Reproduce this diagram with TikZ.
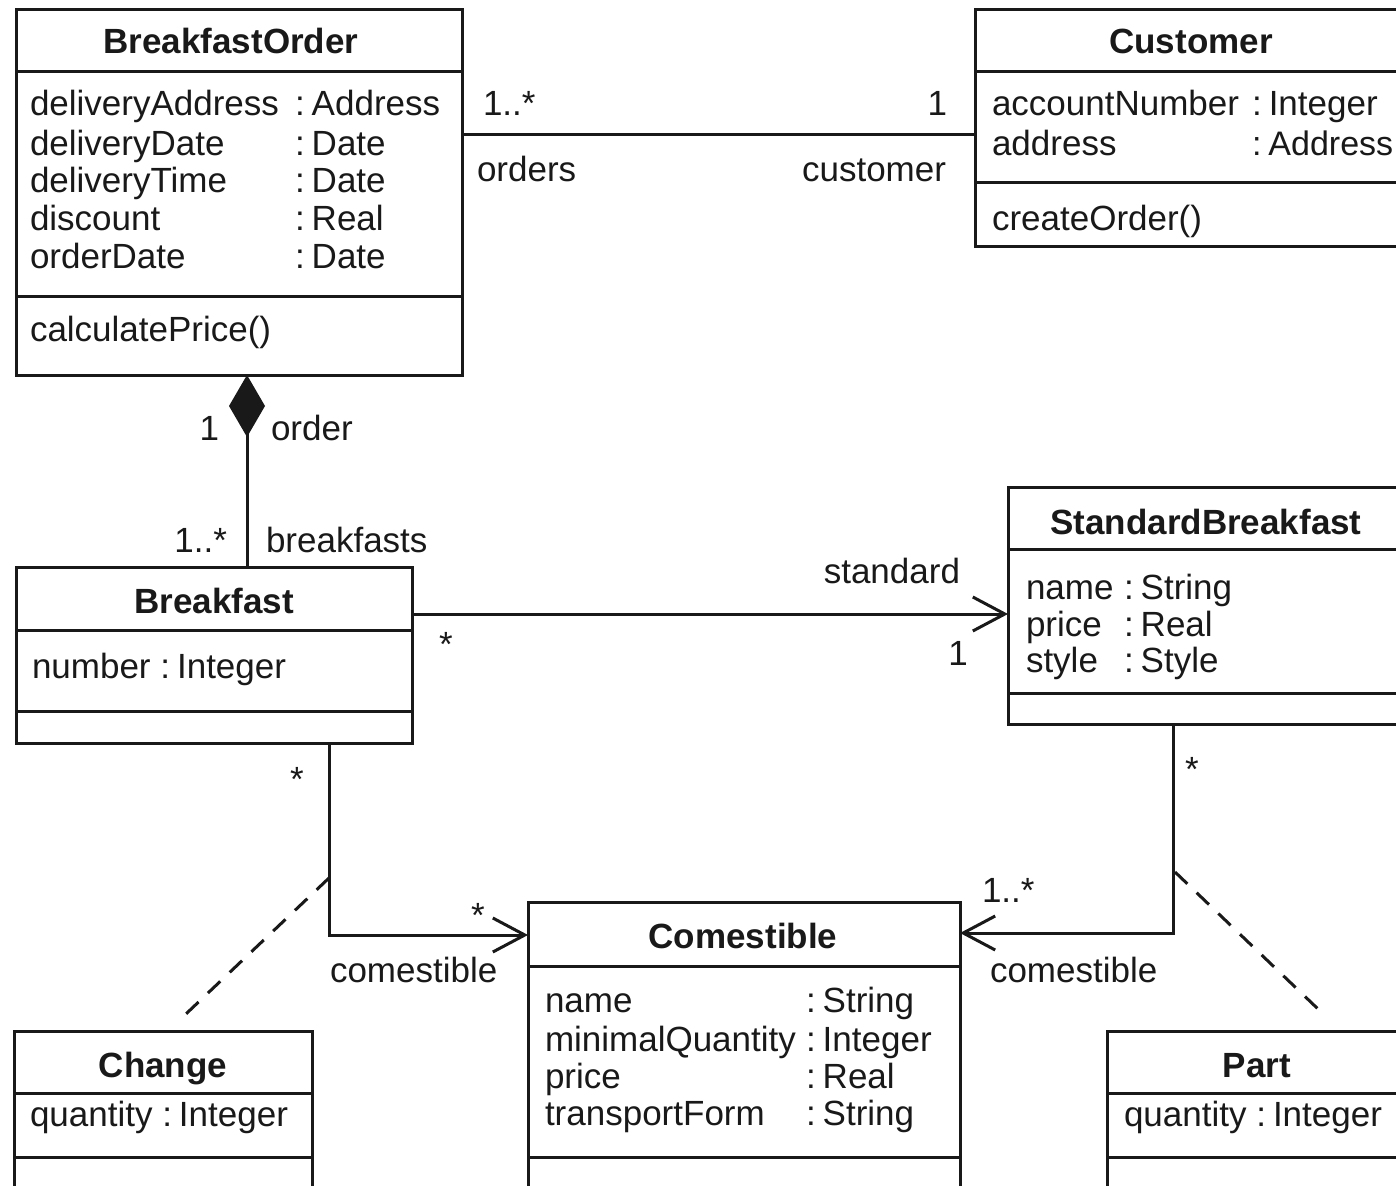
\documentclass[tikz,border=0pt]{standalone}
\usepackage{fontspec}
\setmainfont{Liberation Sans}
\usetikzlibrary{arrows.meta}
\definecolor{ink}{RGB}{25,25,25}
% attribute type with a tight colon
\newcommand\attrtype[1]{:\hspace{7pt}#1}
\begin{document}
\begin{tikzpicture}[x=1pt,y=-1pt,
  every node/.style={inner sep=0pt, outer sep=0pt, text=ink, font=\fontsize{35}{40}\selectfont},
  classbox/.style={draw=ink, line width=3pt, fill=white, rectangle, anchor=north west},
  txt/.style={anchor=base west},
  rtxt/.style={anchor=base east},
  ctxt/.style={anchor=base},
  ttl/.style={anchor=base, font=\fontsize{35}{40}\selectfont\bfseries},
  divider/.style={draw=ink, line width=3pt},
  assoc/.style={draw=ink, line width=3pt},
  navarrow/.style={assoc, -{Straight Barb[length=32pt,width=34pt]}},
  assocclass/.style={draw=ink, line width=3pt, dash pattern=on 17pt off 13pt},
]
\useasboundingbox (0,0) rectangle (1396,1185);
\fill[white] (0,0) rectangle (1396,1185);
\clip (0,0) rectangle (1396,1185);

% ---------- class boxes ----------
\node[classbox, minimum width=446pt, minimum height=365pt] (bo) at (16,10) {};
\node[classbox, minimum width=432pt, minimum height=236pt] (cu) at (975,10) {};
\node[classbox, minimum width=396pt, minimum height=176pt] (bf) at (16,567) {};
\node[classbox, minimum width=396pt, minimum height=237pt] (sb) at (1008,487) {};
\node[classbox, minimum width=432pt, minimum height=330pt] (co) at (528,902) {};
\node[classbox, minimum width=298pt, minimum height=300pt] (ch) at (14,1031) {};
\node[classbox, minimum width=300pt, minimum height=300pt] (pa) at (1107,1031) {};

% compartment dividers
\draw[divider] (bo.west |- 0,72) -- (bo.east |- 0,72);
\draw[divider] (bo.west |- 0,296) -- (bo.east |- 0,296);
\draw[divider] (cu.west |- 0,72) -- (cu.east |- 0,72);
\draw[divider] (cu.west |- 0,183) -- (cu.east |- 0,183);
\draw[divider] (bf.west |- 0,630) -- (bf.east |- 0,630);
\draw[divider] (bf.west |- 0,711) -- (bf.east |- 0,711);
\draw[divider] (sb.west |- 0,549) -- (sb.east |- 0,549);
\draw[divider] (sb.west |- 0,693) -- (sb.east |- 0,693);
\draw[divider] (co.west |- 0,966) -- (co.east |- 0,966);
\draw[divider] (co.west |- 0,1157) -- (co.east |- 0,1157);
\draw[divider] (ch.west |- 0,1093) -- (ch.east |- 0,1093);
\draw[divider] (ch.west |- 0,1157) -- (ch.east |- 0,1157);
\draw[divider] (pa.west |- 0,1093) -- (pa.east |- 0,1093);
\draw[divider] (pa.west |- 0,1157) -- (pa.east |- 0,1157);

% ---------- connectors ----------
\draw[assoc] (bo.east |- 0,135) -- (cu.west |- 0,135);
\draw[assoc, {Diamond[length=62pt,width=36pt]}-] (bo.south -| 247,0) -- (bf.north -| 247,0);
\draw[navarrow] (bf.east |- 0,614) -- (sb.west |- 0,614);
\draw[navarrow] (bf.south -| 329,0) |- (co.west |- 0,935);
\draw[navarrow] (sb.south -| 1173,0) |- (co.east |- 0,933);
\coordinate (chj) at (329,878);
\draw[assocclass, shorten >=15pt] (chj) -- (ch.north -| 168,0);
\coordinate (paj) at (1175,872);
\draw[assocclass, shorten >=20pt] (paj) -- (pa.north -| 1341,0);

% ---------- BreakfastOrder ----------
\node[ttl] (bo-title) at (231,54) {BreakfastOrder};
\foreach \a/\t/\y [count=\i] in {deliveryAddress/Address/116, deliveryDate/Date/156,
    deliveryTime/Date/193, discount/Real/230, orderDate/Date/268}{
  \node[txt] (bo-a\i) at (295,\y) {\attrtype{\t}};
  \node[txt] (bo-n\i) at (30,\y) {\a};
}
\node[txt] (bo-op) at (30,341) {calculatePrice()};

% ---------- Customer ----------
\node[ttl] (cu-title) at (1191,54) {Customer};
\node[txt] (cu-a1) at (992,116) {accountNumber};
\node[txt] (cu-t1) at (1252,116) {\attrtype{Integer}};
\node[txt] (cu-a2) at (992,156) {address};
\node[txt] (cu-t2) at (1252,156) {\fontsize{34}{40}\selectfont\attrtype{Address}};
\node[txt] (cu-op) at (992,230) {createOrder()};

% ---------- Breakfast ----------
\node[ttl] (bf-title) at (214,613) {Breakfast};
\node[txt] (bf-a1) at (32,678) {number \attrtype{Integer}};

% ---------- StandardBreakfast ----------
\node[ttl] (sb-title) at (1206,534) {StandardBreakfast};
\foreach \a/\t/\y [count=\i] in {name/String/599, price/Real/636, style/Style/672}{
  \node[txt] (sb-a\i) at (1026,\y) {\a};
  \node[txt] (sb-t\i) at (1124,\y) {\attrtype{\t}};
}

% ---------- Comestible ----------
\node[ttl] (co-title) at (743,948) {Comestible};
\foreach \a/\t/\y [count=\i] in {name/String/1012, minimalQuantity/Integer/1051,
    price/Real/1088, transportForm/String/1125}{
  \node[txt] (co-a\i) at (545,\y) {\a};
  \node[txt] (co-t\i) at (806,\y) {\attrtype{\t}};
}

% ---------- Change / Part ----------
\node[ttl] (ch-title) at (163,1077) {Change};
\node[txt] (ch-a1) at (30,1126) {quantity \attrtype{Integer}};
\node[ttl] (pa-title) at (1257,1077) {Part};
\node[txt] (pa-a1) at (1124,1126) {quantity \attrtype{Integer}};

% ---------- association end labels ----------
\node[txt]  (l-ordm)  at (483,116) {1..*};
\node[rtxt] (l-custm) at (947,116) {1};
\node[txt]  (l-ord)   at (477,182) {orders};
\node[rtxt] (l-cust)  at (946,182) {customer};
\node[rtxt] (l-orderm) at (219,440) {1};
\node[txt]  (l-order) at (271,440) {order};
\node[rtxt] (l-bfsm)  at (227,552) {1..*};
\node[txt]  (l-bfs)   at (266,552) {breakfasts};
\node[rtxt] (l-std)   at (960,583) {standard};
\node[ctxt] (l-stds)  at (446,656) {*};
\node[ctxt] (l-stdm)  at (958,665) {1};
\node[ctxt] (l-bcs)   at (297,791) {*};
\node[ctxt] (l-bcm)   at (478,927) {*};
\node[txt]  (l-bc)    at (330,982) {comestible};
\node[ctxt] (l-scs)   at (1192,781) {*};
\node[txt]  (l-scm)   at (982,902) {1..*};
\node[txt]  (l-sc)    at (990,982) {comestible};
\end{tikzpicture}
\end{document}
